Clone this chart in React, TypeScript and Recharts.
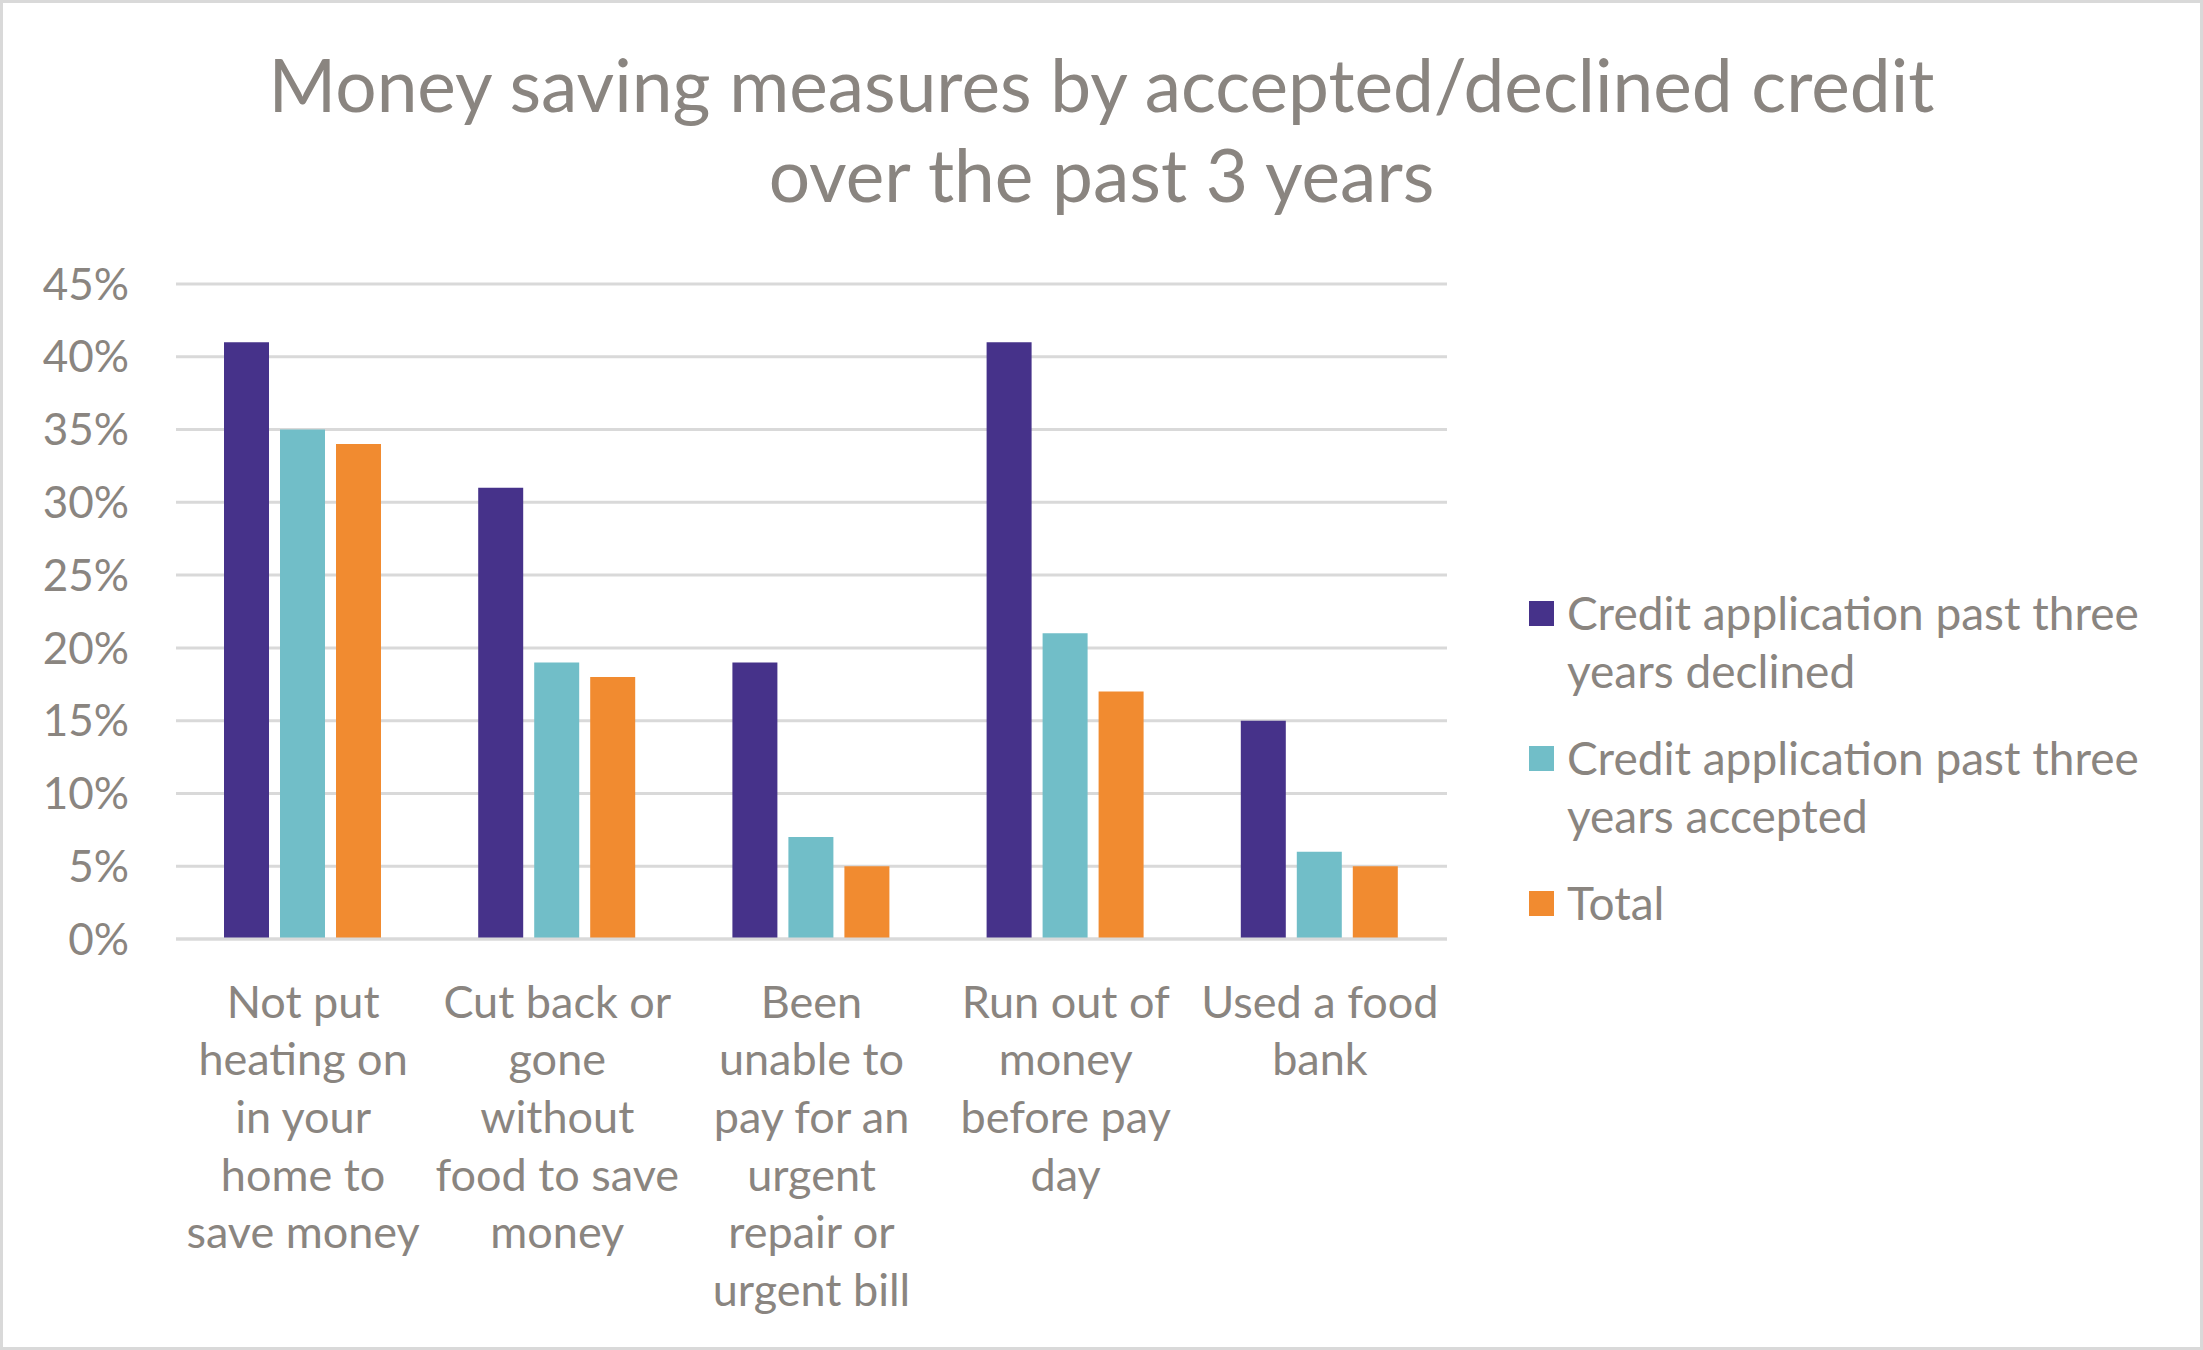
import React from 'react'
import { BarChart, Bar, XAxis, YAxis, CartesianGrid, Legend } from 'recharts'

const categories = [
  'Not put heating on in your home to save money',
  'Cut back or gone without food to save money',
  'Been unable to pay for an urgent repair or urgent bill',
  'Run out of money before pay day',
  'Used a food bank',
]

// how the category labels break onto lines in the original
const categoryLines = [
  ['Not put', 'heating on', 'in your', 'home to', 'save money'],
  ['Cut back or', 'gone', 'without', 'food to save', 'money'],
  ['Been', 'unable to', 'pay for an', 'urgent', 'repair or', 'urgent bill'],
  ['Run out of', 'money', 'before pay', 'day'],
  ['Used a food', 'bank'],
]

const declined = [41, 31, 19, 41, 15]
const accepted = [35, 19, 7, 21, 6]
const total = [34, 18, 5, 17, 5]

const yTicks = [0, 5, 10, 15, 20, 25, 30, 35, 40, 45]

const seriesKeys = ['declined', 'accepted', 'total']
const seriesNames = {
  declined: 'Credit application past three years declined',
  accepted: 'Credit application past three years accepted',
  total: 'Total',
}

const data = categories.map((name, i) => ({
  name,
  declined: declined[i],
  accepted: accepted[i],
  total: total[i],
}))

const FONT = 'Lato, "Open Sans", sans-serif'
const TEXT = '#8a8580'
const GRID = '#d9d9d9'

const PURPLE = '#46328a'
const TEAL = '#71bec8'
const ORANGE = '#f18b30'

function CategoryTick(props: any) {
  const { x, y, payload } = props
  const idx = categories.indexOf(payload.value)
  const lines = categoryLines[idx] || [payload.value]
  return (
    <text x={x} y={y} textAnchor="middle" fill={TEXT} fontSize={45} fontFamily={FONT}>
      {lines.map((l, i) => (
        <tspan key={i} x={x} dy={i === 0 ? '0.35em' : 57.6}>
          {l}
        </tspan>
      ))}
    </text>
  )
}

function renderLegend(props: any) {
  const items = [...(props.payload || [])].sort(
    (a: any, b: any) => seriesKeys.indexOf(a.dataKey) - seriesKeys.indexOf(b.dataKey)
  )
  return (
    <div style={{ fontFamily: FONT, fontSize: 46, color: TEXT, lineHeight: '58px', textAlign: 'left' }}>
      {items.map((item: any) => (
        <div key={item.dataKey} style={{ display: 'flex', alignItems: 'flex-start', marginBottom: 29 }}>
          <span
            style={{
              display: 'inline-block',
              width: 25,
              height: 25,
              marginTop: 17,
              marginRight: 13,
              background: item.color,
              flex: 'none',
            }}
          />
          <span style={{ width: 620 }}>{item.value}</span>
        </div>
      ))}
    </div>
  )
}

export default function App() {
  return (
    <div
      style={{
        position: 'absolute',
        left: 0,
        top: 0,
        width: 2203,
        height: 1350,
        background: '#fff',
        border: `3px solid ${GRID}`,
        boxSizing: 'border-box',
        overflow: 'hidden',
      }}
    >
      <div
        style={{
          position: 'absolute',
          left: -3,
          top: 36,
          width: 2203,
          textAlign: 'center',
          fontFamily: FONT,
          fontSize: 73,
          lineHeight: '90px',
          color: TEXT,
        }}
      >
        Money saving measures by accepted/declined credit
        <br />
        over the past 3 years
      </div>
      <div style={{ position: 'absolute', left: -3, top: -3 }}>
        <BarChart
          width={2203}
          height={1350}
          data={data}
          margin={{ top: 284, right: 756, bottom: 31, left: 0 }}
          barCategoryGap={48}
          barGap={11}
        >
          <CartesianGrid vertical={false} stroke={GRID} strokeWidth={3} />
          <XAxis
            dataKey="name"
            height={380}
            axisLine={{ stroke: GRID, strokeWidth: 3 }}
            tickLine={false}
            tickSize={0}
            tickMargin={63}
            interval={0}
            tick={<CategoryTick />}
          />
          <YAxis
            width={176}
            domain={[0, 45]}
            ticks={yTicks}
            axisLine={false}
            tickLine={false}
            tickSize={0}
            tickMargin={47}
            tickFormatter={(v: number) => `${v}%`}
            tick={{ fill: TEXT, fontSize: 44, fontFamily: FONT }}
          />
          <Legend
            layout="horizontal"
            align="center"
            verticalAlign="middle"
            content={renderLegend}
            wrapperStyle={{ position: 'absolute', left: 1529, top: 584, width: 670 }}
          />
          <Bar dataKey="declined" name={seriesNames.declined} fill={PURPLE} isAnimationActive={false} />
          <Bar dataKey="accepted" name={seriesNames.accepted} fill={TEAL} isAnimationActive={false} />
          <Bar dataKey="total" name={seriesNames.total} fill={ORANGE} isAnimationActive={false} />
        </BarChart>
      </div>
    </div>
  )
}
